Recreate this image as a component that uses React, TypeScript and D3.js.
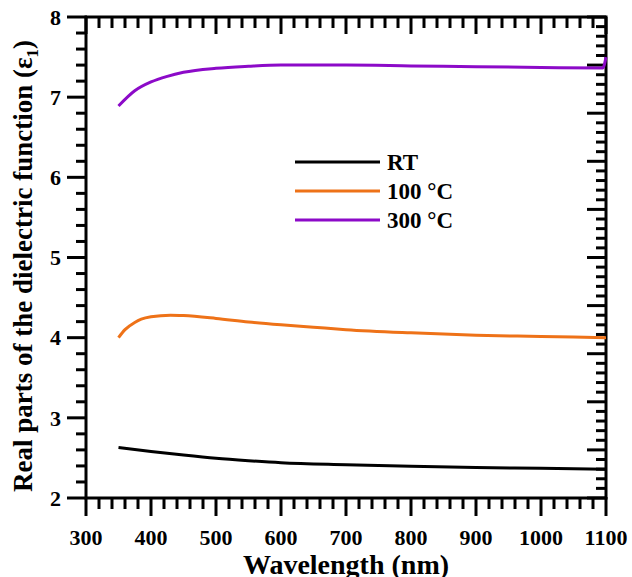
import React from "react";
import * as d3 from "d3";

// Wavelength grid (nm) and real part of the dielectric function for each anneal
const wavelengthRT = [350, 400, 450, 500, 550, 600, 700, 800, 900, 1000, 1100];
const epsRT = [2.63, 2.58, 2.535, 2.495, 2.465, 2.44, 2.415, 2.395, 2.38, 2.37, 2.36];

const wavelength100 = [350, 360, 375, 385, 400, 430, 450, 500, 550, 600, 650, 700, 800, 900, 1000, 1100];
const eps100 = [4.0, 4.1, 4.19, 4.23, 4.26, 4.28, 4.275, 4.24, 4.195, 4.16, 4.13, 4.1, 4.06, 4.03, 4.015, 4.0];

const wavelength300 = [350, 375, 400, 425, 450, 500, 550, 600, 700, 800, 900, 1000, 1095, 1100];
const eps300 = [6.89, 7.08, 7.19, 7.26, 7.31, 7.36, 7.385, 7.4, 7.4, 7.39, 7.38, 7.37, 7.365, 7.5];

const seriesNames = ["RT", "100 °C", "300 °C"];
const seriesColors = ["#000000", "#ee7218", "#8c0ac8"];

const xTickValues = [300, 400, 500, 600, 700, 800, 900, 1000, 1100];
const yTickValues = [2, 3, 4, 5, 6, 7, 8];

const W = 632;
const H = 577;
const M = { left: 86, right: 26, top: 17, bottom: 79 };
const FONT = "'Liberation Serif', 'Times New Roman', serif";

const x = d3.scaleLinear().domain([300, 1100]).range([M.left, W - M.right]);
const y = d3.scaleLinear().domain([2, 8]).range([H - M.bottom, M.top]);

const xMinor = d3.range(300, 1101, 20).filter((v) => v % 100 !== 0);
const yMinor = d3.range(2, 8.001, 0.2).filter((v) => Math.abs(v - Math.round(v)) > 1e-6);
// right-hand frame carries its own finer tick division
const yRightMajor = d3.range(0, 11).map((i) => 2 + i * 0.6);
const yRightMinor = d3.range(0, 51).filter((i) => i % 5 !== 0).map((i) => 2 + i * 0.12);

const line = d3
  .line<[number, number]>()
  .x((d) => x(d[0]))
  .y((d) => y(d[1]))
  .curve(d3.curveMonotoneX);

const series: [number[], number[]][] = [
  [wavelengthRT, epsRT],
  [wavelength100, eps100],
  [wavelength300, eps300],
];

const legendY = [162, 191, 220];

const yB = H - M.bottom;
const xR = W - M.right;

export default function App() {
  const textStyle = { fontFamily: FONT, fontWeight: "bold" as const };
  const tk = { stroke: "#000", strokeWidth: 3 };

  return (
    <svg
      width={W}
      height={H}
      style={{ position: "absolute", left: 0, top: 0, background: "#fff" }}
    >
      {/* frame */}
      <rect
        x={M.left}
        y={M.top}
        width={xR - M.left}
        height={yB - M.top}
        fill="none"
        stroke="#000"
        strokeWidth={3}
      />

      <g className="ticks-bottom">
        {xMinor.map((t) => (
          <line key={`bm${t}`} x1={x(t)} x2={x(t)} y1={yB - 1} y2={yB + 11} {...tk} />
        ))}
        {xTickValues.map((t) => (
          <line key={`bM${t}`} x1={x(t)} x2={x(t)} y1={yB - 1} y2={yB + 18} {...tk} />
        ))}
      </g>
      <g className="ticks-top">
        {xMinor.map((t) => (
          <line key={`tm${t}`} x1={x(t)} x2={x(t)} y1={M.top} y2={M.top + 11} {...tk} />
        ))}
        {xTickValues.map((t) => (
          <line key={`tM${t}`} x1={x(t)} x2={x(t)} y1={M.top} y2={M.top + 17} {...tk} />
        ))}
      </g>
      <g className="ticks-left">
        {yMinor.map((t, i) => (
          <line key={`lm${i}`} x1={M.left - 10} x2={M.left + 1} y1={y(t)} y2={y(t)} {...tk} />
        ))}
        {yTickValues.map((t) => (
          <line key={`lM${t}`} x1={M.left - 19} x2={M.left + 1} y1={y(t)} y2={y(t)} {...tk} />
        ))}
      </g>
      <g className="ticks-right">
        {yRightMinor.map((t, i) => (
          <line key={`rm${i}`} x1={xR - 10} x2={xR} y1={y(t)} y2={y(t)} {...tk} />
        ))}
        {yRightMajor.map((t, i) => (
          <line key={`rM${i}`} x1={xR - 19} x2={xR} y1={y(t)} y2={y(t)} {...tk} />
        ))}
      </g>

      {xTickValues.map((v) => (
        <text key={`bl${v}`} x={x(v)} y={545} textAnchor="middle" fontSize={22} style={textStyle}>
          {v}
        </text>
      ))}
      {yTickValues.map((v) => (
        <text key={`ll${v}`} x={61} y={y(v)} dy="0.35em" textAnchor="end" fontSize={22} style={textStyle}>
          {v}
        </text>
      ))}

      {/* curves */}
      {series.map(([wl, ev], i) => (
        <path
          key={`s${i}`}
          d={line(wl.map((w, k) => [w, ev[k]] as [number, number])) ?? ""}
          fill="none"
          stroke={seriesColors[i]}
          strokeWidth={3}
        />
      ))}

      {/* legend */}
      {seriesNames.map((name, i) => (
        <g key={`lg${i}`}>
          <line x1={295} x2={380} y1={legendY[i]} y2={legendY[i]} stroke={seriesColors[i]} strokeWidth={3} />
          <text x={387} y={legendY[i]} dy="0.35em" fontSize={23} style={textStyle}>
            {name}
          </text>
        </g>
      ))}

      {/* axis titles */}
      <text x={(M.left + xR) / 2} y={574} textAnchor="middle" fontSize={28} style={textStyle}>
        Wavelength (nm)
      </text>
      <text transform="translate(32,266) rotate(-90)" textAnchor="middle" fontSize={27} style={textStyle}>
        <tspan>Real parts of the dielectric function (ε</tspan>
        <tspan fontSize={17} dy={6}>1</tspan>
        <tspan dy={-6}>)</tspan>
      </text>
    </svg>
  );
}
